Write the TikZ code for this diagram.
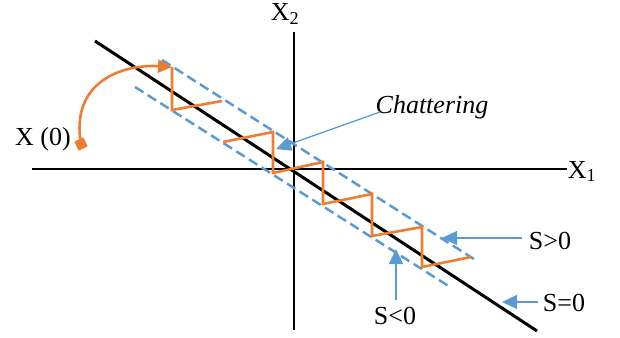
\documentclass[tikz,border=0pt]{standalone}
\usepackage{fontspec}
\setmainfont{Liberation Serif}
\usetikzlibrary{arrows.meta}
\definecolor{sorange}{HTML}{ED7D31}
\definecolor{sblue}{HTML}{5B9BD5}
\begin{document}
\begin{tikzpicture}[x=1pt,y=-1pt,
  lbl/.style={font=\fontsize{26}{28}\selectfont, inner sep=0pt, anchor=base},
  axisline/.style={line width=2.6pt, black},
  surface/.style={line width=3pt, black},
  band/.style={line width=2.5pt, sblue, dash pattern=on 10pt off 5pt},
  zig/.style={line width=2.6pt, sorange, line join=miter},
  pointer/.style={line width=1.3pt, sblue, -{Triangle[length=15pt,width=14pt]}},
  traj/.style={line width=2.6pt, sorange, -{Triangle[length=14pt,width=13pt]}},
  marker/.style={fill=sorange, draw=none, minimum size=10pt, inner sep=0pt, rotate=25}]
\useasboundingbox (0,0) rectangle (620,337);
% axes
\coordinate (xl) at (32,169);
\coordinate (xr) at (567,169);
\coordinate (yt) at (294,32);
\coordinate (yb) at (294,330);
\draw[axisline] (xl) -- (xr);
\draw[axisline] (yt) -- (yb);
\node[lbl] (X2) at (285,21) {X\textsubscript{2}};
\node[lbl] (X1) at (582,178) {X\textsubscript{1}};
% sliding surface
\coordinate (s0a) at (95,41);
\coordinate (s0b) at (537,331);
\draw[surface] (s0a) -- (s0b);
% boundary layer
\coordinate (ua) at (162,60);
\coordinate (ub) at (477,261);
\coordinate (la) at (135,87);
\coordinate (lb) at (450,287);
\draw[band] (ua) -- (ub);
\draw[band] (la) -- (lb);
% zigzag
\coordinate (z0) at (172,67);
\draw[zig] (z0) -- (172,110) -- (222,101);
\draw[zig] (223,142) -- (273,132) -- (273,173) -- (323,162) -- (323,204)
  -- (372,194) -- (372,236) -- (422,227) -- (422,267) -- (471,257);
% initial state
\node[marker] (m0) at (81,144) {};
\node[lbl] (X0) at (43,145) {X (0)};
\draw[traj] (m0.center) .. controls (70,82) and (122,64) .. (z0);
% labels with pointers
\node[lbl, font=\fontsize{26}{28}\selectfont\itshape] (chat) at (432,113) {Chattering};
\coordinate (chatA) at (380,112);
\coordinate (chatT) at (276,149);
\draw[pointer] (chatA) -- (chatT);
\node[lbl] (sgt) at (550,249) {S>0};
\coordinate (sgtA) at (522,238);
\coordinate (sgtT) at (442,238);
\draw[pointer] (sgtA) -- (sgtT);
\node[lbl] (seq) at (564,311) {S=0};
\coordinate (seqA) at (538,302);
\coordinate (seqT) at (502,302);
\draw[pointer] (seqA) -- (seqT);
\node[lbl] (slt) at (395,324) {S<0};
\coordinate (sltA) at (396,300);
\coordinate (sltT) at (396,249);
\draw[pointer] (sltA) -- (sltT);
\end{tikzpicture}
\end{document}
